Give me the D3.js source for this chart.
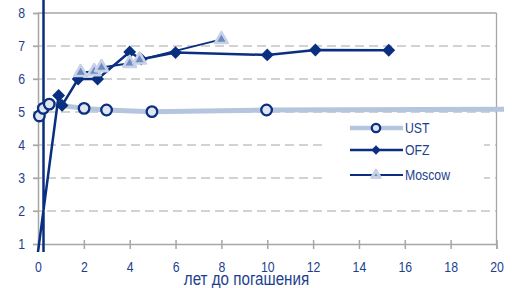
<!DOCTYPE html>
<html><head><meta charset="utf-8">
<script src="https://cdn.jsdelivr.net/npm/d3@7"></script>
<style>
html,body{margin:0;padding:0;background:#fff;}
svg{display:block;}
text{font-family:"Liberation Sans",Arial,sans-serif;}
</style></head>
<body>
<script>
// ---- data ----
const xTicks = [0,2,4,6,8,10,12,14,16,18,20];
const yTicks = [1,2,3,4,5,6,7,8];
const xLabel = "лет до погашения";

const ustYears = [0.06,0.23,0.49,2.01,2.99,4.97,9.97,30];
const ustYield = [4.88,5.11,5.24,5.11,5.06,5.01,5.06,5.1];

const ofzYears = [0.24,0.24,-0.05,0.9,1.05,1.75,2.6,4.0,4.5,6.0,10.0,12.1,15.3];
const ofzYield = [9,0.5,0.5,5.5,5.2,6.0,6.0,6.82,6.6,6.8,6.73,6.88,6.87];

const mosYears = [1.86,2.45,2.77,4.0,4.43,8.0];
const mosYield = [6.2,6.23,6.35,6.48,6.58,7.2];

const seriesNames = ["UST","OFZ","Moscow"];

// ---- chart ----
const W=518,H=288, SX=0.82;
const svg=d3.select("body").append("svg").attr("width",W).attr("height",H);
const x=d3.scaleLinear().domain([0,20]).range([38,496.5]);
const y=d3.scaleLinear().domain([1,8]).range([244,13]);
const navy="#0b2f80", tickCol="#1e3f8e", grid="#a6a6a6", light="#b6c5de";

// gridlines
svg.append("g").selectAll("line").data(yTicks.filter(d=>d>1&&d<8)).join("line")
  .attr("x1",33).attr("x2",x(20)).attr("y1",d=>y(d)).attr("y2",d=>y(d))
  .attr("stroke",grid).attr("stroke-width",1.2).attr("stroke-dasharray","9,5");

// frame top / right
svg.append("line").attr("x1",x(0)).attr("x2",x(20)).attr("y1",y(8)).attr("y2",y(8)).attr("stroke",grid).attr("stroke-width",1.3);
svg.append("line").attr("x1",x(20)).attr("x2",x(20)).attr("y1",y(8)).attr("y2",y(1)).attr("stroke",grid).attr("stroke-width",1.3);

// axes
const xAxis=d3.axisBottom(x).tickValues(xTicks).tickSize(5).tickPadding(12).tickFormat(d3.format("d"));
const gx=svg.append("g").attr("transform",`translate(0,${y(1)})`).call(xAxis);
gx.select(".domain").attr("stroke",grid).attr("stroke-width",1.5);
gx.selectAll(".tick line").attr("stroke",grid).attr("stroke-width",1.5).attr("y1",-4);
gx.selectAll(".tick text").attr("fill",tickCol).style("font-size","15px").attr("transform",`scale(${SX},1)`);

const yAxis=d3.axisLeft(y).tickValues(yTicks).tickSize(5).tickPadding(8).tickFormat(d3.format("d"));
const gy=svg.append("g").attr("transform",`translate(${x(0)},0)`).call(yAxis);
gy.select(".domain").attr("stroke",grid).attr("stroke-width",1.5);
gy.selectAll(".tick line").attr("stroke",grid).attr("stroke-width",1.3);
gy.selectAll(".tick text").attr("fill",tickCol).style("font-size","15px")
  .attr("x",-13/SX).attr("transform",`scale(${SX},1)`);

svg.append("text").attr("transform",`translate(246.5,285) scale(${SX},1)`).attr("text-anchor","middle")
  .attr("fill",tickCol).style("font-size","18.5px").text(xLabel);

// legend background
svg.append("rect").attr("x",322).attr("y",117).attr("width",162).attr("height",70).attr("fill","#fff");

// clip
svg.append("clipPath").attr("id","clip").append("rect").attr("x",30).attr("y",0).attr("width",504-30).attr("height",252);
const plot=svg.append("g").attr("clip-path","url(#clip)");

const toPts=(xs,ys)=>xs.map((v,i)=>[v,ys[i]]);
const ust=toPts(ustYears,ustYield), ofz=toPts(ofzYears,ofzYield), mos=toPts(mosYears,mosYield);
const line=d3.line().x(d=>x(d[0])).y(d=>y(d[1]));
const inside=d=>d[0]>=0&&d[0]<=20&&d[1]>=1&&d[1]<=8;

plot.append("path").attr("d",line(ust)).attr("fill","none").attr("stroke",light).attr("stroke-width",5).attr("stroke-linejoin","round");
plot.append("path").attr("d",line(ofz)).attr("fill","none").attr("stroke",navy).attr("stroke-width",2.5).attr("stroke-linejoin","round");
plot.append("path").attr("d",line(mos)).attr("fill","none").attr("stroke",navy).attr("stroke-width",2).attr("stroke-linejoin","round");

function circ(g,cx,cy,r){g.append("circle").attr("cx",cx).attr("cy",cy).attr("r",r).attr("fill","#dfe6f2").attr("stroke",navy).attr("stroke-width",2.3);}
function dia(g,cx,cy,s){g.append("path").attr("d",d3.symbol().type(d3.symbolDiamond2).size(s)()).attr("transform",`translate(${cx},${cy})`).attr("fill",navy);}
function trg(g,cx,cy,s,sw){g.append("path").attr("d",d3.symbol().type(d3.symbolTriangle).size(s)()).attr("transform",`translate(${cx},${cy})`).attr("fill","#6d8bc0").attr("stroke","#c7d2e6").attr("stroke-width",sw).attr("stroke-linejoin","round");}

ust.filter(inside).forEach(d=>circ(plot,x(d[0]),y(d[1]),5.3));
ofz.filter(inside).forEach(d=>dia(plot,x(d[0]),y(d[1]),105));
mos.filter(inside).forEach(d=>trg(plot,x(d[0]),y(d[1]),70,2.6));

// legend
const lg=svg.append("g");
const ly=[128,150,175];
lg.append("line").attr("x1",350).attr("x2",403).attr("y1",ly[0]).attr("y2",ly[0]).attr("stroke",light).attr("stroke-width",4.5);
circ(lg,376,ly[0],4.2);
lg.append("line").attr("x1",350).attr("x2",403).attr("y1",ly[1]).attr("y2",ly[1]).attr("stroke",navy).attr("stroke-width",2.5);
dia(lg,376,ly[1],55);
lg.append("line").attr("x1",350).attr("x2",403).attr("y1",ly[2]).attr("y2",ly[2]).attr("stroke",navy).attr("stroke-width",2);
trg(lg,376,ly[2],30,3);
seriesNames.forEach((n,i)=>lg.append("text").attr("transform",`translate(405,${ly[i]}) scale(${SX},1)`).attr("dy","0.36em")
  .attr("fill",tickCol).style("font-size","15px").text(n));
</script>
</body></html>
